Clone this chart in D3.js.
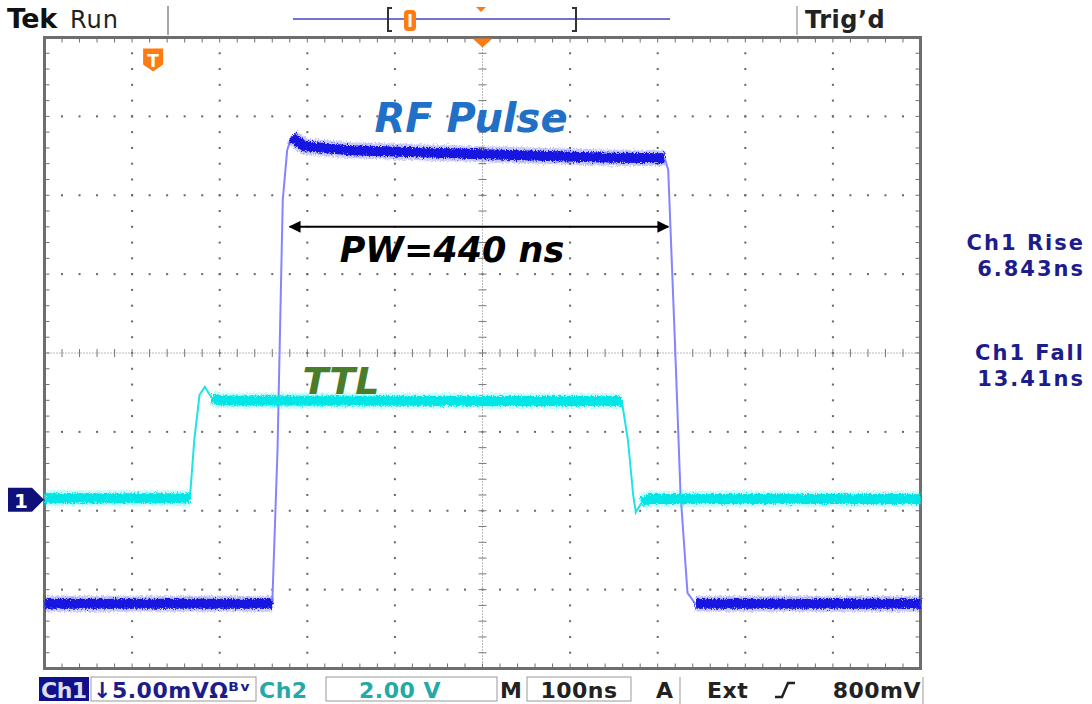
<!DOCTYPE html>
<meta charset="utf-8">
<script src="https://d3js.org/d3.v7.min.js"></script>
<style>
  body { margin: 0; background: #fff; }
  text { font-family: "DejaVu Sans", sans-serif; }
</style>
<div id="scope"></div>
<script>

// time in ns (100 ns/div, trigger at centre), level in divisions
const ch1Time  = [-500, -240, -234, -228, -223, -218, -203, -151, 0, 134, 208, 212, 220, 226, 234, 243, 500]
const ch1Level = [-3.18, -3.18, -1.23, 1.94, 2.57, 2.74, 2.62, 2.57, 2.52, 2.48, 2.47, 2.32, 0.04, -1.77, -3.04, -3.18, -3.18]
const ch2Time  = [-500, -334, -329, -323, -317, -309, -300, 159, 166, 172, 175, 182, 191, 500]
const ch2Level = [-1.84, -1.84, -1.10, -0.53, -0.43, -0.57, -0.60, -0.61, -1.10, -1.80, -2.02, -1.89, -1.85, -1.85]

// graticule
const timeDivs  = [-500, -400, -300, -200, -100, 0, 100, 200, 300, 400, 500]
const levelDivs = [-4, -3, -2, -1, 0, 1, 2, 3, 4]

// annotations
const pulseWidth = [-220, 212]      // ns, arrow ends
const pulseArrowLevel = 1.6
const ch1Marker = -1.86
const trigMarker = [-376, 3.72]
const readLabels = ["Ch1 Rise", "Ch1 Fall"]
const readValues = ["6.843ns", "13.41ns"]

const W = 1092, H = 704
const svg = d3.select("#scope").append("svg")
    .attr("width", W).attr("height", H)

const x = d3.scaleLinear().domain([-500, 500]).range([44.5, 920.5])
const y = d3.scaleLinear().domain([-4, 4]).range([668.5, 37.5])

const defs = svg.append("defs")
const f = defs.append("filter").attr("id", "fuzz")
    .attr("x", "-5%").attr("y", "-20%").attr("width", "110%").attr("height", "140%")
f.append("feTurbulence").attr("type", "fractalNoise").attr("baseFrequency", "0.9 0.6")
    .attr("numOctaves", 2).attr("seed", 3).attr("result", "n")
f.append("feDisplacementMap").attr("in", "SourceGraphic").attr("in2", "n")
    .attr("scale", 6).attr("xChannelSelector", "R").attr("yChannelSelector", "G")

const minorT = d3.range(-500, 500.1, 20)
const minorL = d3.range(-4, 4.01, 0.2)

// dotted grid
const grid = svg.append("g").attr("fill", "#666")
timeDivs.slice(1, -1).filter(t => t !== 0).forEach(t => {
  grid.selectAll(null).data(minorL).enter().append("rect")
    .attr("x", x(t) - 1).attr("y", d => y(d) - 1).attr("width", 2).attr("height", 2)
})
levelDivs.slice(1, -1).filter(l => l !== 0).forEach(l => {
  grid.selectAll(null).data(minorT).enter().append("rect")
    .attr("x", d => x(d) - 1).attr("y", y(l) - 1).attr("width", 2).attr("height", 2)
})

// centre cross
const cross = svg.append("g").attr("stroke", "#777").attr("stroke-width", 1)
cross.append("line").attr("x1", x(0)).attr("x2", x(0)).attr("y1", y(4)).attr("y2", y(-4))
    .attr("stroke-dasharray", "1,2")
cross.append("line").attr("x1", x(-500)).attr("x2", x(500)).attr("y1", y(0)).attr("y2", y(0))
    .attr("stroke-dasharray", "1,2")
cross.selectAll(null).data(minorL).enter().append("line")
    .attr("x1", x(0) - 4).attr("x2", x(0) + 4).attr("y1", d => y(d)).attr("y2", d => y(d))
cross.selectAll(null).data(minorT).enter().append("line")
    .attr("y1", y(0) - 4).attr("y2", y(0) + 4).attr("x1", d => x(d)).attr("x2", d => x(d))

// frame with ticks
const frame = svg.append("g").attr("stroke", "#6e6e6e")
frame.append("rect").attr("x", x(-500)).attr("y", y(4))
    .attr("width", x(500) - x(-500)).attr("height", y(-4) - y(4))
    .attr("fill", "none").attr("stroke-width", 3)
frame.selectAll(null).data(minorT).enter().append("line")
    .attr("x1", d => x(d)).attr("x2", d => x(d)).attr("y1", y(4)).attr("y2", y(4) + 5)
frame.selectAll(null).data(minorT).enter().append("line")
    .attr("x1", d => x(d)).attr("x2", d => x(d)).attr("y1", y(-4)).attr("y2", y(-4) - 5)
frame.selectAll(null).data(minorL).enter().append("line")
    .attr("y1", d => y(d)).attr("y2", d => y(d)).attr("x1", x(-500)).attr("x2", x(-500) + 5)
frame.selectAll(null).data(minorL).enter().append("line")
    .attr("y1", d => y(d)).attr("y2", d => y(d)).attr("x1", x(500)).attr("x2", x(500) - 5)

// traces: thin line everywhere, thick noisy band on the flat parts
const line = d3.line()
function drawTrace(time, level, edgeColor, bandColor) {
  const pts = time.map((t, i) => [x(t), y(level[i])])
  const runs = []
  let cur = [pts[0]]
  for (let i = 1; i < pts.length; i++) {
    const dx = pts[i][0] - pts[i - 1][0], dy = Math.abs(pts[i][1] - pts[i - 1][1])
    if (dy < dx) cur.push(pts[i])
    else { if (cur.length > 1) runs.push(cur); cur = [pts[i]] }
  }
  if (cur.length > 1) runs.push(cur)
  const g = svg.append("g").attr("fill", "none")
  g.append("path").attr("d", line(pts)).attr("stroke", edgeColor).attr("stroke-width", 2)
  const b = g.append("g").attr("filter", "url(#fuzz)")
  runs.forEach(r => {
    b.append("path").attr("d", line(r)).attr("stroke", bandColor)
        .attr("stroke-width", 16).attr("stroke-opacity", 0.22)
    b.append("path").attr("d", line(r)).attr("stroke", bandColor)
        .attr("stroke-width", 10).attr("stroke-linejoin", "round")
  })
}
drawTrace(ch1Time, ch1Level, "#8484ff", "#1212e0")
drawTrace(ch2Time, ch2Level, "#1ee4e4", "#00e6e6")

// pulse width arrow
defs.append("marker").attr("id", "ah").attr("viewBox", "0 0 10 10")
    .attr("refX", 9).attr("refY", 5).attr("markerWidth", 18).attr("markerHeight", 12)
    .attr("markerUnits", "userSpaceOnUse").attr("orient", "auto-start-reverse")
  .append("path").attr("d", "M0,0L10,5L0,10z").attr("fill", "#000")
svg.append("line")
    .attr("x1", x(pulseWidth[0])).attr("x2", x(pulseWidth[1]))
    .attr("y1", y(pulseArrowLevel)).attr("y2", y(pulseArrowLevel))
    .attr("stroke", "#000").attr("stroke-width", 2)
    .attr("marker-start", "url(#ah)").attr("marker-end", "url(#ah)")

// labels on the screen
const lab = svg.append("g").attr("font-weight", "bold").attr("font-style", "italic")
lab.append("text").attr("x", 471).attr("y", 132).attr("text-anchor", "middle")
    .attr("font-size", 40).attr("fill", "#1f70c6").text("RF Pulse")
lab.append("text").attr("x", 452).attr("y", 262).attr("text-anchor", "middle")
    .attr("font-size", 35).attr("fill", "#000").text("PW=440 ns")
lab.append("text").attr("x", 341).attr("y", 394).attr("text-anchor", "middle")
    .attr("font-size", 38).attr("fill", "#4a7d2a").text("TTL")

// orange markers
const orange = "#ff7a10"
const tm = svg.append("g").attr("transform", `translate(${x(trigMarker[0])},${y(trigMarker[1])})`)
tm.append("path").attr("d", "M-10,-11H10V5L0,12L-10,5Z").attr("fill", orange)
tm.append("text").attr("y", 7).attr("text-anchor", "middle").attr("font-size", 17)
    .attr("font-weight", "bold").attr("fill", "#fff").text("T")
svg.append("path").attr("d", `M${x(0) - 10},${y(4) + 1}H${x(0) + 10}L${x(0)},${y(4) + 10}Z`)
    .attr("fill", orange)

// channel 1 ground marker
const cm = svg.append("g").attr("transform", `translate(0,${y(ch1Marker)})`)
cm.append("path").attr("d", "M8,-12H32L44,0L32,12H8Z").attr("fill", "#10107a")
cm.append("text").attr("x", 21).attr("y", 8).attr("text-anchor", "middle")
    .attr("font-size", 20).attr("font-weight", "bold").attr("fill", "#fff").text("1")

// header
const hd = svg.append("g")
hd.append("text").attr("x", 7).attr("y", 28).attr("font-size", 27).attr("font-weight", "bold")
    .attr("letter-spacing", -0.5).attr("fill", "#111").text("Tek")
hd.append("text").attr("x", 70).attr("y", 28).attr("font-size", 24).attr("letter-spacing", 1)
    .attr("fill", "#222").text("Run")
hd.append("line").attr("x1", 168).attr("x2", 168).attr("y1", 6).attr("y2", 35)
    .attr("stroke", "#888").attr("stroke-width", 1.5)
hd.append("line").attr("x1", 797).attr("x2", 797).attr("y1", 6).attr("y2", 35)
    .attr("stroke", "#aaa").attr("stroke-width", 1.5)
hd.append("text").attr("x", 805).attr("y", 28).attr("font-size", 24).attr("font-weight", "bold")
    .attr("letter-spacing", 0.5).attr("fill", "#222").text("Trig\u2019d")
hd.append("line").attr("x1", 293).attr("x2", 670).attr("y1", 19).attr("y2", 19)
    .attr("stroke", "#4646c0").attr("stroke-width", 1.5)
hd.append("path").attr("d", "M392,8H388V31H392M572,8H576V31H572")
    .attr("fill", "none").attr("stroke", "#333").attr("stroke-width", 2)
hd.append("rect").attr("x", 404).attr("y", 10).attr("width", 12).attr("height", 21).attr("rx", 4)
    .attr("fill", orange)
hd.append("rect").attr("x", 408.5).attr("y", 14).attr("width", 3).attr("height", 13)
    .attr("fill", "#fff")
hd.append("path").attr("d", "M476,7H486L481,12Z").attr("fill", orange)

// measurement readouts
const rd = svg.append("g").attr("fill", "#1c1c8c").attr("font-weight", "bold")
    .attr("font-size", 21).attr("letter-spacing", 2).attr("text-anchor", "end")
readLabels.forEach((t, i) => {
  rd.append("text").attr("x", 1085).attr("y", 250 + i * 110).text(t)
  rd.append("text").attr("x", 1085).attr("y", 276 + i * 110).text(readValues[i])
})

// status bar
const sb = svg.append("g").attr("font-size", 22).attr("font-weight", "bold").attr("letter-spacing", 0.5)
sb.append("rect").attr("x", 39).attr("y", 677).attr("width", 50).attr("height", 24).attr("fill", "#10108a")
sb.append("text").attr("x", 41).attr("y", 698).attr("letter-spacing", -0.5).attr("fill", "#dde").text("Ch1")
sb.selectAll(null).data([[91, 165], [326, 171], [527, 104]]).enter().append("rect")
    .attr("x", d => d[0]).attr("y", 677).attr("width", d => d[1]).attr("height", 24)
    .attr("fill", "none").attr("stroke", "#999")
sb.append("text").attr("x", 93).attr("y", 698).attr("fill", "#1c1c8c").text("\u21935.00mV\u03a9\u1d2e\u1d5b")
sb.append("text").attr("x", 259).attr("y", 698).attr("fill", "#25a8a8").text("Ch2")
sb.append("text").attr("x", 400).attr("y", 698).attr("text-anchor", "middle").attr("fill", "#25a8a8").text("2.00 V")
sb.append("text").attr("x", 500).attr("y", 698).attr("fill", "#222").text("M")
sb.append("text").attr("x", 579).attr("y", 698).attr("text-anchor", "middle").attr("fill", "#222").text("100ns")
sb.append("text").attr("x", 656).attr("y", 698).attr("fill", "#222").text("A")
sb.append("line").attr("x1", 680).attr("x2", 680).attr("y1", 677).attr("y2", 704).attr("stroke", "#999")
sb.append("text").attr("x", 707).attr("y", 698).attr("fill", "#222").text("Ext")
sb.append("path").attr("d", "M775,697H782L788,683H795").attr("fill", "none")
    .attr("stroke", "#222").attr("stroke-width", 2.5)
sb.append("text").attr("x", 921).attr("y", 698).attr("text-anchor", "end").attr("fill", "#222").text("800mV")
sb.append("line").attr("x1", 923).attr("x2", 923).attr("y1", 677).attr("y2", 704).attr("stroke", "#999")

</script>
